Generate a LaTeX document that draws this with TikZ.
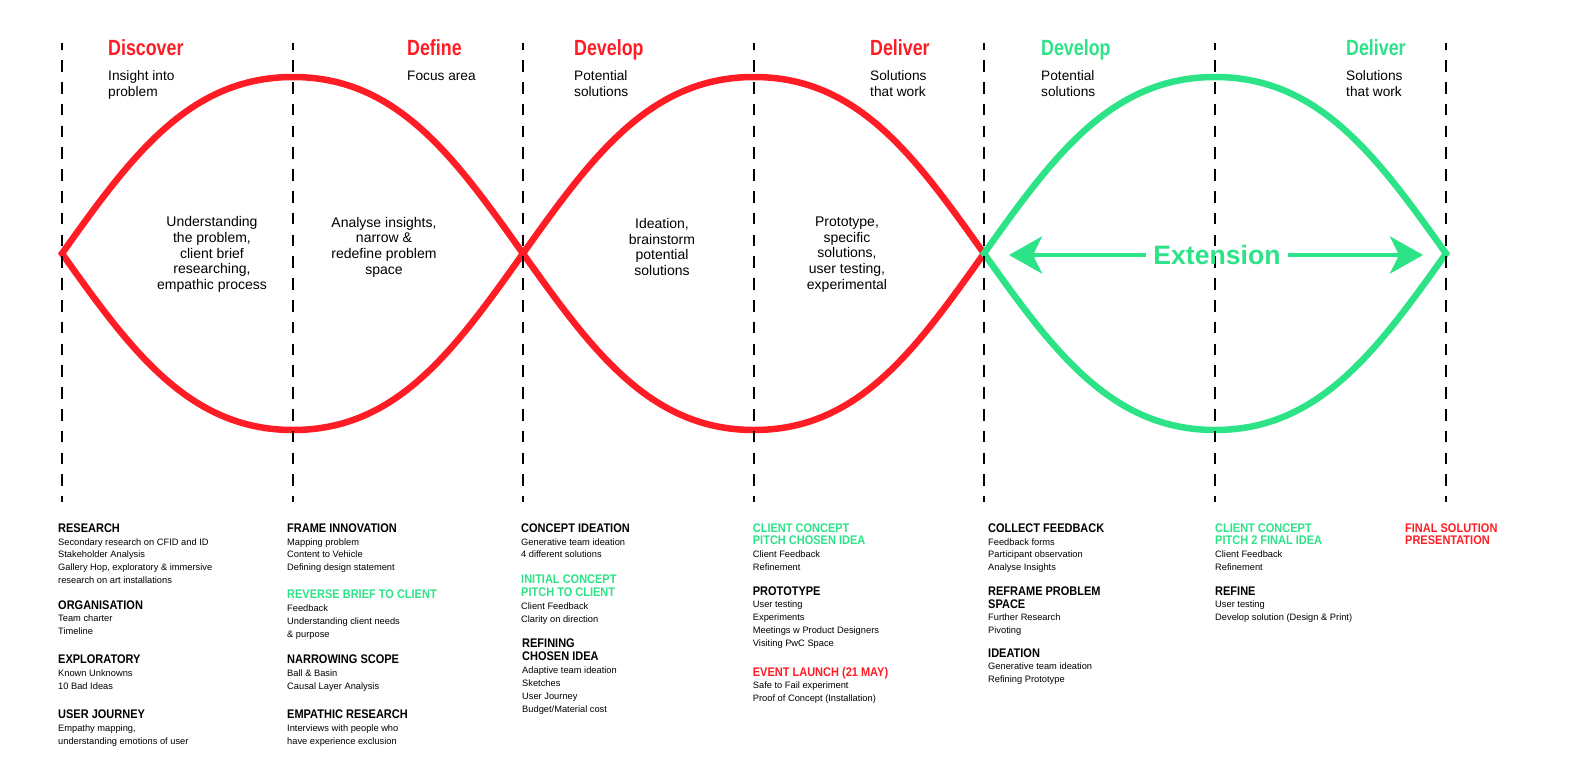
\documentclass[tikz,border=0pt]{standalone}
\usepackage{fontspec}
\setmainfont{Liberation Sans}
\newfontfamily\hfont{Liberation Sans}[FakeStretch=0.81]
\newfontfamily\cfont{Liberation Sans}[FakeStretch=0.88]
\usetikzlibrary{arrows.meta}
\definecolor{dred}{HTML}{FF1C24}
\definecolor{dgreen}{HTML}{2DE387}
\tikzset{
  wave/.style={line width=6.5pt, line join=miter},
  vline/.style={line width=2pt, black, dash pattern=on 11.7pt off 10.1pt, dash phase=5pt},
  phase/.style={font=\hfont\bfseries\fontsize{22}{24}\selectfont, anchor=base west, inner sep=0pt},
  sub/.style={font=\fontsize{13.7}{16}\selectfont, anchor=base west, inner sep=0pt},
  mid/.style={font=\fontsize{14}{15.75}\selectfont, align=center, inner sep=0pt, anchor=center},
  colh/.style={font=\cfont\bfseries\fontsize{12.5}{12.8}\selectfont, anchor=base west, inner sep=0pt},
  colb/.style={font=\fontsize{9.3}{12.8}\selectfont, anchor=base west, inner sep=0pt},
  ext/.style={font=\bfseries\fontsize{26.6}{28}\selectfont, text=dgreen, inner xsep=7pt, inner ysep=0pt, anchor=center},
  arr/.style={line width=4.5pt, draw=dgreen, -{Stealth[length=33pt,width=37pt,inset=9pt]}}
}
\begin{document}
\begin{tikzpicture}[x=1pt,y=-1pt]
\useasboundingbox (0,0) rectangle (1590,774);
\fill[white] (0,0) rectangle (1590,774);

% red double wave
\draw[wave, dred] (62,253.5) .. controls (131,156.5) and (189,77) .. (293,77)
  .. controls (397,77) and (454,156.5) .. (523,253.5)
  .. controls (592,350.5) and (650,430) .. (754,430)
  .. controls (858,430) and (915,350.5) .. (984,253.5)
  .. controls (915,156.5) and (858,77) .. (754,77)
  .. controls (650,77) and (592,156.5) .. (523,253.5)
  .. controls (454,350.5) and (397,430) .. (293,430)
  .. controls (189,430) and (131,350.5) .. cycle;
% green diamond
\draw[wave, dgreen] (984,253.5) .. controls (1053,156.5) and (1111,77) .. (1215,77)
  .. controls (1319,77) and (1377,156.5) .. (1446,253.5)
  .. controls (1377,350.5) and (1319,430) .. (1215,430)
  .. controls (1111,430) and (1053,350.5) .. cycle;

% dashed dividers
\foreach \x in {62,293,523,754,984,1215,1446}
  \draw[vline] (\x,43.3) -- (\x,501.7);

% phase headings
\node[phase,text=dred] (hDiscover) at (108,55.5) {Discover};
\node[phase,text=dred] (hDefine) at (407,55.5) {Define};
\node[phase,text=dred] (hDevelop) at (574,55.5) {Develop};
\node[phase,text=dred] (hDeliver) at (870,55.5) {Deliver};
\node[phase,text=dgreen] (hDevelopB) at (1041,55.5) {Develop};
\node[phase,text=dgreen] (hDeliverB) at (1346,55.5) {Deliver};

% subtitles
\node[sub] (s1a) at (108,80.5) {Insight into};
\node[sub] (s1b) at (108,96.5) {problem};
\node[sub] (s2a) at (407,80.5) {Focus area};
\node[sub] (s3a) at (574,80.5) {Potential};
\node[sub] (s3b) at (574,96.5) {solutions};
\node[sub] (s4a) at (870,80.5) {Solutions};
\node[sub] (s4b) at (870,96.5) {that work};
\node[sub] (s5a) at (1041,80.5) {Potential};
\node[sub] (s5b) at (1041,96.5) {solutions};
\node[sub] (s6a) at (1346,80.5) {Solutions};
\node[sub] (s6b) at (1346,96.5) {that work};

% middle texts
\node[mid] (m1) at (212,254.5) {Understanding\\the problem,\\client brief\\researching,\\empathic process};
\node[mid] (m2) at (384,247) {Analyse insights,\\narrow \&\\redefine problem\\space};
\node[mid] (m3) at (662,247) {Ideation,\\brainstorm\\potential\\solutions};
\node[mid] (m4) at (847,254.5) {Prototype,\\specific\\solutions,\\user testing,\\experimental};

% extension arrow
\node[ext] (ext) at (1217,255) {Extension};
\coordinate (tipL) at (1009,255);
\coordinate (tipR) at (1423,255);
\draw[arr] (ext.west) -- (tipL);
\draw[arr] (ext.east) -- (tipR);

% column 1
\node[colh] (c1a) at (58,532.2) {RESEARCH};
\node[colb] (c1b) at (58,545) {Secondary research on CFID and ID};
\node[colb] (c1c) at (58,557.6) {Stakeholder Analysis};
\node[colb] (c1d) at (58,570.6) {Gallery Hop, exploratory \& immersive};
\node[colb] (c1e) at (58,583.3) {research on art installations};
\node[colh] (c1f) at (58,609.2) {ORGANISATION};
\node[colb] (c1g) at (58,621.6) {Team charter};
\node[colb] (c1h) at (58,634.3) {Timeline};
\node[colh] (c1i) at (58,663.8) {EXPLORATORY};
\node[colb] (c1j) at (58,676.3) {Known Unknowns};
\node[colb] (c1k) at (58,689) {10 Bad Ideas};
\node[colh] (c1l) at (58,718.2) {USER JOURNEY};
\node[colb] (c1m) at (58,731.3) {Empathy mapping,};
\node[colb] (c1n) at (58,744) {understanding emotions of user};

% column 2
\node[colh] (c2a) at (287,532.2) {FRAME INNOVATION};
\node[colb] (c2b) at (287,545) {Mapping problem};
\node[colb] (c2c) at (287,557.6) {Content to Vehicle};
\node[colb] (c2d) at (287,570.6) {Defining design statement};
\node[colh,text=dgreen] (c2e) at (287,598.5) {REVERSE BRIEF TO CLIENT};
\node[colb] (c2f) at (287,611) {Feedback};
\node[colb] (c2g) at (287,624) {Understanding client needs};
\node[colb] (c2h) at (287,637) {\& purpose};
\node[colh] (c2i) at (287,663.8) {NARROWING SCOPE};
\node[colb] (c2j) at (287,676.3) {Ball \& Basin};
\node[colb] (c2k) at (287,689) {Causal Layer Analysis};
\node[colh] (c2l) at (287,718.2) {EMPATHIC RESEARCH};
\node[colb] (c2m) at (287,731.3) {Interviews with people who};
\node[colb] (c2n) at (287,744) {have experience exclusion};

% column 3
\node[colh] (c3a) at (521,532.2) {CONCEPT IDEATION};
\node[colb] (c3b) at (521,545) {Generative team ideation};
\node[colb] (c3c) at (521,557.6) {4 different solutions};
\node[colh,text=dgreen] (c3d) at (521,583.5) {INITIAL CONCEPT};
\node[colh,text=dgreen] (c3e) at (521,596.2) {PITCH TO CLIENT};
\node[colb] (c3f) at (521,609) {Client Feedback};
\node[colb] (c3g) at (521,622) {Clarity on direction};
\node[colh] (c3h) at (522,647.8) {REFINING};
\node[colh] (c3i) at (522,660.2) {CHOSEN IDEA};
\node[colb] (c3j) at (522,673) {Adaptive team ideation};
\node[colb] (c3k) at (522,686) {Sketches};
\node[colb] (c3l) at (522,699.3) {User Journey};
\node[colb] (c3m) at (522,712.3) {Budget/Material cost};

% column 4
\node[colh,text=dgreen] (c4a) at (752.7,532.2) {CLIENT CONCEPT};
\node[colh,text=dgreen] (c4b) at (752.7,544.8) {PITCH CHOSEN IDEA};
\node[colb] (c4c) at (752.7,557.6) {Client Feedback};
\node[colb] (c4d) at (752.7,570.6) {Refinement};
\node[colh] (c4e) at (752.7,595.2) {PROTOTYPE};
\node[colb] (c4f) at (752.7,607.6) {User testing};
\node[colb] (c4g) at (752.7,620.6) {Experiments};
\node[colb] (c4h) at (752.7,633.6) {Meetings w Product Designers};
\node[colb] (c4i) at (752.7,646.6) {Visiting PwC Space};
\node[colh,text=dred] (c4j) at (752.7,676.2) {EVENT LAUNCH (21 MAY)};
\node[colb] (c4k) at (752.7,688.6) {Safe to Fail experiment};
\node[colb] (c4l) at (752.7,701.6) {Proof of Concept (Installation)};

% column 5
\node[colh] (c5a) at (988,532.2) {COLLECT FEEDBACK};
\node[colb] (c5b) at (988,545) {Feedback forms};
\node[colb] (c5c) at (988,557.6) {Participant observation};
\node[colb] (c5d) at (988,570.6) {Analyse Insights};
\node[colh] (c5e) at (988,595.2) {REFRAME PROBLEM};
\node[colh] (c5f) at (988,608.2) {SPACE};
\node[colb] (c5g) at (988,620.6) {Further Research};
\node[colb] (c5h) at (988,633.6) {Pivoting};
\node[colh] (c5i) at (988,657.2) {IDEATION};
\node[colb] (c5j) at (988,669.6) {Generative team ideation};
\node[colb] (c5k) at (988,682.6) {Refining Prototype};

% column 6
\node[colh,text=dgreen] (c6a) at (1215,532.2) {CLIENT CONCEPT};
\node[colh,text=dgreen] (c6b) at (1215,544.8) {PITCH 2 FINAL IDEA};
\node[colb] (c6c) at (1215,557.6) {Client Feedback};
\node[colb] (c6d) at (1215,570.6) {Refinement};
\node[colh] (c6e) at (1215,595.2) {REFINE};
\node[colb] (c6f) at (1215,607.6) {User testing};
\node[colb] (c6g) at (1215,620.6) {Develop solution (Design \& Print)};

% column 7
\node[colh,text=dred] (c7a) at (1405,532.2) {FINAL SOLUTION};
\node[colh,text=dred] (c7b) at (1405,544.8) {PRESENTATION};
\end{tikzpicture}
\end{document}
